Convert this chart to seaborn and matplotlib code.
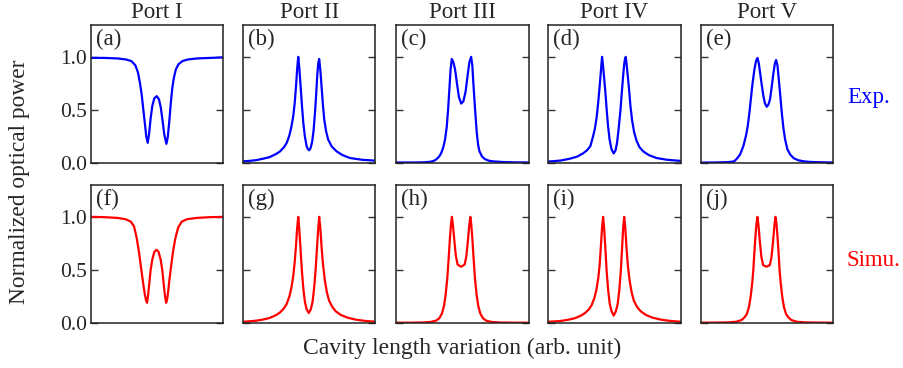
import matplotlib
matplotlib.use("Agg")
import matplotlib.pyplot as plt
import seaborn as sns

# column titles and panel tags
ports = ["Port I", "Port II", "Port III", "Port IV", "Port V"]
tags_exp = ["(a)", "(b)", "(c)", "(d)", "(e)"]
tags_sim = ["(f)", "(g)", "(h)", "(i)", "(j)"]
yticks = [0.0, 0.5, 1.0]
ytick_labels = ["0.0", "0.5", "1.0"]

# ---- experiment (top row), x in arbitrary units 0..100 ----
a_x = [0, 10, 20, 26.5, 30.5, 33.5, 35.5, 37, 38.3, 39.5, 40.6, 41.7, 42.8, 43.8, 45, 46.3, 47.8, 49.6,
       51.3, 52.7, 54, 55.3, 56.9, 57.9, 59, 60.2, 61.3, 62.5, 64, 66, 69, 73, 80, 90, 100]
a_y = [0.99, 0.99, 0.985, 0.975, 0.96, 0.92, 0.85, 0.75, 0.64, 0.5, 0.38, 0.25, 0.19, 0.27, 0.42, 0.54, 0.61, 0.63,
       0.6, 0.52, 0.4, 0.27, 0.18, 0.24, 0.38, 0.56, 0.7, 0.8, 0.88, 0.93, 0.96, 0.975, 0.985, 0.99, 0.995]

b_x = [0, 5, 10, 15, 20, 25, 28, 31, 33, 35, 36.5, 37.9, 39, 40, 40.9, 41.7, 42.6, 43.5, 44.5, 45.5,
       46.7, 48, 49, 50, 51, 52.2, 53.3, 54.3, 55.2, 56, 56.8, 57.5, 58.4, 59.3, 60.3, 61.3, 62.7, 64.3, 67, 70.6,
       75, 80.7, 90, 100]
b_y = [0.016, 0.02, 0.027, 0.04, 0.055, 0.085, 0.11, 0.15, 0.19, 0.26, 0.34, 0.44, 0.56, 0.72, 0.89, 1.0, 0.88, 0.72, 0.54, 0.38,
       0.25, 0.16, 0.13, 0.12, 0.14, 0.2, 0.31, 0.47, 0.64, 0.82, 0.94, 0.98, 0.87, 0.72, 0.55, 0.41, 0.3, 0.22, 0.155, 0.11,
       0.075, 0.047, 0.03, 0.022]

c_x = [0, 15, 22, 26, 28.5, 30.5, 32.5, 34, 35.5, 37, 38.3, 39.3, 40.3, 41.2, 42.1, 43.3, 44.6, 46, 47.5, 49.2,
       50.8, 52.5, 54, 55.4, 56.7, 57.6, 58.4, 59.7, 61, 62, 63, 65, 67.3, 70, 73.5, 81, 90, 100]
c_y = [0.005, 0.005, 0.007, 0.012, 0.02, 0.035, 0.06, 0.09, 0.14, 0.22, 0.34, 0.5, 0.7, 0.88, 0.98, 0.95, 0.88, 0.75, 0.62, 0.56,
       0.58, 0.67, 0.82, 0.95, 1.0, 0.92, 0.75, 0.5, 0.28, 0.17, 0.11, 0.06, 0.035, 0.022, 0.015, 0.009, 0.006, 0.005]

d_x = [0, 5, 10, 16.4, 22, 26.4, 29.5, 32, 34, 35.5, 36.8, 37.8, 38.7, 39.5, 40.2, 40.8, 41.5, 42.3, 43.3, 44.3,
       45.3, 46.5, 47.9, 49.6, 51, 52.1, 53.3, 54.7, 55.8, 56.7, 57.5, 58.1, 58.7, 59.4, 60.2, 61, 62.2, 63.5, 65, 66.8,
       69, 71.8, 76, 81.9, 90, 100]
d_y = [0.014, 0.018, 0.024, 0.04, 0.06, 0.09, 0.12, 0.16, 0.25, 0.33, 0.44, 0.56, 0.68, 0.8, 0.91, 1.0, 0.92, 0.81, 0.67, 0.5,
       0.35, 0.22, 0.13, 0.09, 0.12, 0.19, 0.32, 0.5, 0.68, 0.82, 0.93, 0.98, 1.0, 0.92, 0.82, 0.72, 0.54, 0.4, 0.29, 0.21,
       0.15, 0.11, 0.075, 0.047, 0.03, 0.02]

e_x = [0, 10, 20, 25, 27, 29.5, 32, 34, 35.3, 36.5, 37.6, 38.9, 40.3, 41.5, 42.6, 43.6, 44.6, 45.8, 47.1, 48.3,
       49.6, 50.9, 52.1, 53.4, 54.7, 55.8, 56.7, 57.7, 58.7, 59.8, 61, 62.2, 63.5, 65.2, 67.3, 70, 73.6, 78, 82.4, 90,
       100]
e_y = [0.004, 0.005, 0.008, 0.015, 0.04, 0.08, 0.16, 0.26, 0.35, 0.47, 0.6, 0.75, 0.88, 0.96, 0.99, 0.94, 0.85, 0.74, 0.63, 0.56,
       0.53, 0.55, 0.6, 0.72, 0.85, 0.94, 0.97, 0.92, 0.79, 0.64, 0.47, 0.33, 0.22, 0.13, 0.08, 0.045, 0.025, 0.015, 0.01, 0.007,
       0.005]

# ---- simulation (bottom row) ----
f_x = [0, 10, 20, 26, 30, 32.5, 34.5, 36.3, 37.8, 39.3, 40.5, 41.5, 42.3, 43, 43.8, 45, 46.3, 47.8, 49.4,
       51, 52.5, 53.8, 55, 55.9, 56.7, 57.4, 58.2, 59.3, 60.6, 62, 63.7, 65.8, 68.5, 72.5, 80, 90, 100]
f_y = [1.0, 0.997, 0.99, 0.978, 0.955, 0.91, 0.8, 0.66, 0.52, 0.38, 0.28, 0.215, 0.19, 0.25, 0.35, 0.5, 0.6, 0.67, 0.69,
       0.67, 0.6, 0.5, 0.35, 0.25, 0.19, 0.22, 0.29, 0.42, 0.55, 0.68, 0.8, 0.9, 0.955, 0.978, 0.99, 0.997, 1.0]

g_x = [0, 5, 10, 15, 20, 25, 28, 31, 33, 35, 36.5, 37.9, 39, 40, 40.9, 41.7, 42.5, 43.4, 44.4, 45.5,
       46.7, 48, 49.6, 51.2, 52.5, 53.7, 54.8, 55.8, 56.7, 57.5, 58.3, 59.4, 60.4, 61.8, 63.3, 65, 67.5, 70, 74, 79,
       85, 92, 100]
g_y = [0.012, 0.016, 0.022, 0.032, 0.047, 0.075, 0.1, 0.14, 0.18, 0.25, 0.33, 0.44, 0.57, 0.73, 0.9, 1.0, 0.88, 0.7, 0.5, 0.33,
       0.2, 0.13, 0.094, 0.13, 0.2, 0.33, 0.5, 0.7, 0.88, 1.0, 0.9, 0.7, 0.55, 0.4, 0.29, 0.21, 0.15, 0.11, 0.075, 0.05,
       0.032, 0.02, 0.012]

h_x = [0, 10, 20.2, 26.2, 30.2, 32.7, 34.7, 36.2, 37.5, 38.7, 39.7, 40.7, 41.5, 42.2, 43, 44, 45.2, 46.5, 49.15, 51.8,
       53.1, 54.3, 55.3, 56.1, 56.8, 57.6, 58.6, 59.6, 60.8, 62.1, 63.6, 65.6, 68.1, 72.1, 78.1, 88, 100]
h_y = [0.003, 0.003, 0.005, 0.01, 0.022, 0.045, 0.09, 0.16, 0.27, 0.42, 0.6, 0.8, 0.93, 1.0, 0.92, 0.78, 0.63, 0.55, 0.53, 0.55,
       0.63, 0.78, 0.92, 1.0, 0.93, 0.8, 0.6, 0.42, 0.27, 0.16, 0.09, 0.045, 0.022, 0.01, 0.005, 0.003, 0.003]

i_x = [0, 5, 10, 15, 20, 25, 28, 31, 33, 35, 36.5, 37.9, 39, 39.9, 40.8, 41.6, 42.4, 43.3, 44.3, 45.4,
       46.6, 48, 49.6, 51.2, 52.6, 53.8, 54.9, 55.9, 56.7, 57.5, 58.3, 59.2, 60.2, 61.6, 63.1, 64.8, 67.3, 70, 74, 79,
       85, 92, 100]
i_y = [0.012, 0.015, 0.02, 0.03, 0.044, 0.07, 0.095, 0.13, 0.17, 0.235, 0.31, 0.42, 0.55, 0.72, 0.9, 1.0, 0.89, 0.7, 0.48, 0.31,
       0.18, 0.11, 0.07, 0.11, 0.18, 0.31, 0.48, 0.7, 0.89, 1.0, 0.9, 0.72, 0.55, 0.4, 0.29, 0.21, 0.15, 0.11, 0.075, 0.05,
       0.032, 0.02, 0.012]

j_x = [0, 10, 20.6, 26.6, 30.6, 33, 34.6, 36.2, 37.5, 38.6, 39.5, 40.3, 41.1, 41.9, 42.6, 43.4, 44.4, 45.6, 46.9, 49.4,
       51.9, 53.2, 54.4, 55.4, 56.2, 56.9, 57.7, 58.5, 59.3, 60.2, 61.3, 62.6, 64.2, 65.8, 68.2, 72.2, 78.2, 88, 100]
j_y = [0.003, 0.004, 0.006, 0.012, 0.028, 0.055, 0.085, 0.15, 0.25, 0.37, 0.5, 0.67, 0.82, 0.94, 1.0, 0.92, 0.77, 0.62, 0.545, 0.53,
       0.545, 0.62, 0.77, 0.92, 1.0, 0.94, 0.82, 0.67, 0.5, 0.37, 0.25, 0.15, 0.085, 0.055, 0.028, 0.012, 0.006, 0.004, 0.003]

exp_curves = [(a_x, a_y), (b_x, b_y), (c_x, c_y), (d_x, d_y), (e_x, e_y)]
sim_curves = [(f_x, f_y), (g_x, g_y), (h_x, h_y), (i_x, i_y), (j_x, j_y)]

sns.set_theme(style="ticks")
plt.rcParams["font.family"] = ["Liberation Serif", "DejaVu Serif"]

W, H = 904, 368
fig = plt.figure(figsize=(W / 100, H / 100), dpi=100)

lefts = [91, 243, 396, 548, 701]
rows = [(25, exp_curves, "#0000ff", tags_exp), (185, sim_curves, "#ff0000", tags_sim)]

for top, curves, color, tags in rows:
    for k, left in enumerate(lefts):
        ax = fig.add_axes([left / W, 1 - (top + 138) / H, 132.5 / W, 138 / H])
        x, y = curves[k]
        sns.lineplot(x=x, y=y, ax=ax, color=color, lw=1.6, estimator=None)
        ax.set_xlim(0, 100)
        ax.set_ylim(0, 1.3)
        ax.set_xticks([])
        ax.set_yticks(yticks)
        ax.tick_params(axis="y", direction="in", left=True, right=True, length=5, width=1,
                       color="#333333", pad=3, labelsize=15.5)
        if k == 0:
            ax.set_yticklabels(ytick_labels)
        else:
            ax.set_yticklabels([])
        for s in ax.spines.values():
            s.set_linewidth(1.1)
            s.set_color("#222222")
        ax.text(0.04, 0.975, tags[k], transform=ax.transAxes, ha="left", va="top", fontsize=16.5)
        if top == 25:
            ax.set_title(ports[k], fontsize=16.5, pad=5)

fig.text(847 / W, 1 - 97 / H, "Exp.", color="#0000ff", fontsize=16.5, ha="left", va="center")
fig.text(847 / W, 1 - 261 / H, "Simu.", color="#ff0000", fontsize=16.5, ha="left", va="center")
fig.text(20 / W, 1 - 182 / H, "Normalized optical power", rotation=90, fontsize=16.8, ha="center", va="center")
fig.text(462 / W, 1 - 354 / H, "Cavity length variation (arb. unit)", fontsize=17, ha="center", va="baseline")

fig.savefig("out.png", dpi=100)
